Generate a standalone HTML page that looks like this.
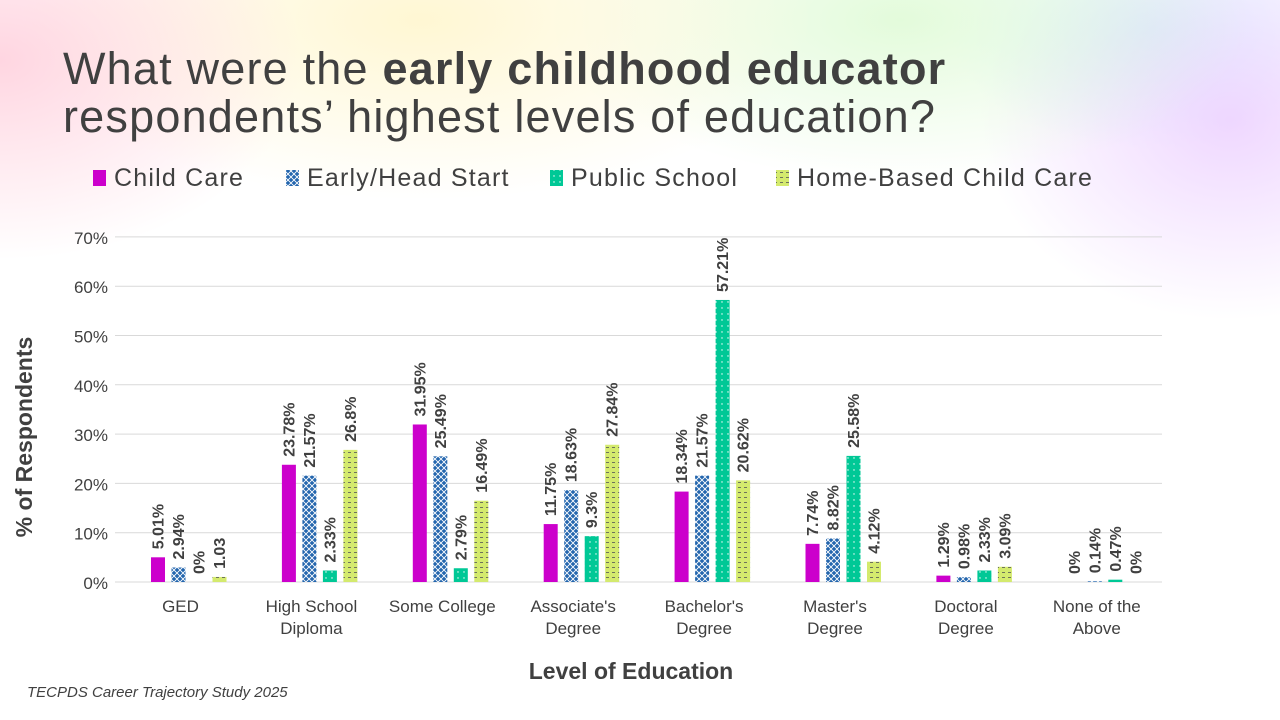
<!DOCTYPE html>
<html><head><meta charset="utf-8"><style>
body{margin:0;width:1280px;height:720px;overflow:hidden;position:relative;font-family:"Liberation Sans",sans-serif;
background:
radial-gradient(ellipse 300px 200px at 0px 60px,rgba(255,200,215,.75),rgba(255,255,255,0)),
radial-gradient(ellipse 400px 180px at 420px 20px,rgba(255,245,200,.8),rgba(255,255,255,0)),
radial-gradient(ellipse 350px 160px at 900px 20px,rgba(220,250,210,.8),rgba(255,255,255,0)),
radial-gradient(ellipse 250px 200px at 1230px 120px,rgba(235,205,255,.8),rgba(255,255,255,0)),
radial-gradient(ellipse 200px 120px at 1150px 30px,rgba(210,240,255,.8),rgba(255,255,255,0)),
#fff;}
.t{position:absolute;left:63px;color:#404040;font-size:45px;letter-spacing:1.2px;line-height:1}
</style></head><body>
<div class="t" style="top:46px">What were the <b>early childhood educator</b></div>
<div class="t" style="top:94px">respondents’ highest levels of education?</div>
<svg width="1280" height="720" style="position:absolute;left:0;top:0" id="s">
<defs>
<pattern id="ph" width="6" height="6" patternUnits="userSpaceOnUse"><rect width="6" height="6" fill="#2466AE"/><path d="M0 0L6 6M6 0L0 6" stroke="#fff" stroke-width="0.9"/></pattern>
<pattern id="pd" width="6" height="6" patternUnits="userSpaceOnUse"><rect width="6" height="6" fill="#00C896"/><circle cx="2" cy="2" r="0.7" fill="#fff"/></pattern>
<pattern id="pw" width="6" height="5" patternUnits="userSpaceOnUse"><rect width="6" height="5" fill="#D4EA6E"/><path d="M0 2.5H3" stroke="#555" stroke-width="0.8"/></pattern>
</defs>
<g font-size="25" fill="#404040" letter-spacing="1.2">
<rect x="93" y="170" width="13" height="16" fill="#CC00CC"/><text x="114" y="186">Child Care</text>
<rect x="286" y="170" width="13" height="16" fill="url(#ph)"/><text x="307" y="186">Early/Head Start</text>
<rect x="550" y="170" width="13" height="16" fill="url(#pd)"/><text x="571" y="186">Public School</text>
<rect x="776" y="170" width="13" height="16" fill="url(#pw)"/><text x="797" y="186">Home-Based Child Care</text>
</g>
<g id="grid"></g><g id="bars"></g>
<text transform="translate(32,437) rotate(-90)" text-anchor="middle" font-size="23" font-weight="bold" fill="#404040">% of Respondents</text>
<text x="631" y="679" text-anchor="middle" font-size="23" font-weight="bold" fill="#404040">Level of Education</text>
<text x="27" y="697" font-size="15" font-style="italic" fill="#404040">TECPDS Career Trajectory Study 2025</text>
</svg>
<script>
var s='',g='';
for(var i=0;i<=7;i++){var y=582-i*49.3;g+='<line x1="115" x2="1162" y1="'+y+'" y2="'+y+'" stroke="#d9d9d9" stroke-width="1"/><text x="108" y="'+(y+7)+'" text-anchor="end" font-size="17" fill="#404040">'+(i*10)+'%</text>';}
var cats=[["GED"],["High School","Diploma"],["Some College"],["Associate's","Degree"],["Bachelor's","Degree"],["Master's","Degree"],["Doctoral","Degree"],["None of the","Above"]];
var d=[[5.01,23.78,31.95,11.75,18.34,7.74,1.29,0],[2.94,21.57,25.49,18.63,21.57,8.82,0.98,0.14],[0,2.33,2.79,9.3,57.21,25.58,2.33,0.47],[1.03,26.8,16.49,27.84,20.62,4.12,3.09,0]];
var f=['#CC00CC','url(#ph)','url(#pd)','url(#pw)'];
for(var c=0;c<8;c++){var x0=151+c*130.9;
cats[c].forEach(function(t,k){g+='<text x="'+(x0+29.5)+'" y="'+(612+k*22)+'" text-anchor="middle" font-size="17" fill="#404040">'+t+'</text>';});
for(var j=0;j<4;j++){var v=d[j][c],h=v*4.93,x=x0+j*20.5;
if(h>0)s+='<rect x="'+x+'" y="'+(582-h)+'" width="14" height="'+h+'" fill="'+f[j]+'"/>';
var lb=(j==3&&c==0)?'1.03':v+'%';
s+='<text transform="translate('+(x+12.5)+','+(574-h)+') rotate(-90)" font-size="16" font-weight="bold" fill="#404040">'+lb+'</text>';}}
document.getElementById('grid').innerHTML=g;document.getElementById('bars').innerHTML=s;
</script>
</body></html>
